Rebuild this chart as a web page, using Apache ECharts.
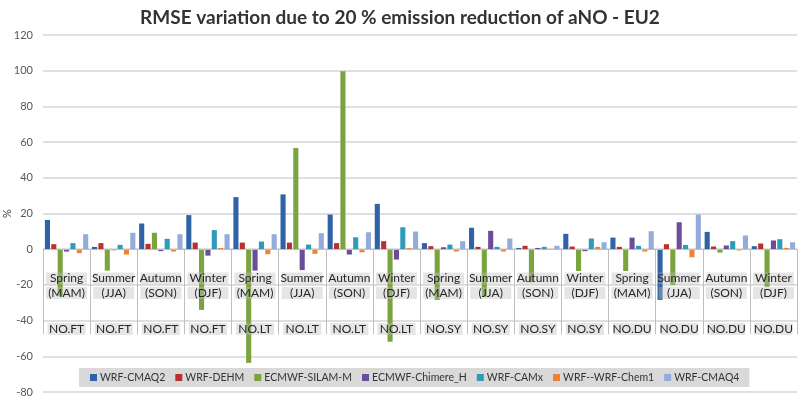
<!DOCTYPE html>
<html>
<head>
<meta charset="utf-8">
<script src="https://cdn.jsdelivr.net/npm/echarts@6/dist/echarts.min.js"></script>
<style>
    html, body { margin: 0; padding: 0; background: #fff; }
    #echarts_div { width: 800px; height: 397px; }
</style>
</head>
<body>
<div id="echarts_div"></div>
<script>
var seasons = ['Spring', 'Summer', 'Autumn', 'Winter'];
var seasonCodes = ['(MAM)', '(JJA)', '(SON)', '(DJF)'];
var regions = ['NO.FT', 'NO.LT', 'NO.SY', 'NO.DU'];
var yTicks = [-80, -60, -40, -20, 0, 20, 40, 60, 80, 100, 120];

var seriesNames = ['WRF-CMAQ2', 'WRF-DEHM', 'ECMWF-SILAM-M', 'ECMWF-Chimere_H', 'WRF-CAMx', 'WRF--WRF-Chem1', 'WRF-CMAQ4'];

// one value per category: FT spring..winter, LT, SY, DU
var cmaq2 = [16.4, 1.3, 14.4, 19.1, 29.2, 30.7, 19.4, 25.4, 3.4, 12.0, 0.7, 8.6, 6.5, -28.4, 9.7, 1.7];
var dehm = [2.8, 3.4, 3.0, 3.7, 3.7, 3.7, 3.4, 4.5, 1.7, 1.3, 1.9, 1.5, 1.3, 2.8, 1.5, 3.2];
var silam = [-26.4, -12.0, 9.2, -34.0, -63.7, 56.7, 99.7, -51.8, -28.4, -26.5, -18.5, -12.2, -12.2, -20.0, -1.9, -21.0];
var chimere = [-1.3, -0.6, -1.1, -3.6, -12.0, -11.7, -3.0, -5.8, 1.1, 10.3, 0.7, -1.1, 6.5, 15.1, 2.1, 4.9];
var camx = [3.4, 2.4, 5.8, 10.7, 4.3, 2.6, 6.7, 12.3, 2.6, 1.3, 1.3, 6.0, 1.9, 2.4, 4.5, 5.6];
var chem1 = [-2.2, -3.0, -1.3, 0.7, -2.8, -2.6, -1.7, 0.6, -1.3, -1.3, 0.2, 1.3, -1.3, -4.5, -0.7, 0.7];
var cmaq4 = [8.4, 9.2, 8.4, 8.4, 8.4, 9.0, 9.5, 9.9, 4.5, 6.0, 1.9, 3.9, 10.1, 19.4, 7.7, 3.9];

var colors = ['#2f63a6', '#b5322f', '#7ba33f', '#6c4d98', '#2f9bb8', '#ee8232', '#93acd9'];

function createChart() {
    var myChart = echarts.init(document.getElementById('echarts_div'));

    var categories = [];
    for (var r = 0; r < regions.length; r++) {
        for (var s = 0; s < seasons.length; s++) {
            categories.push(r + '|' + s);
        }
    }

    var allData = [cmaq2, dehm, silam, chimere, camx, chem1, cmaq4];
    var series = [];
    for (var i = 0; i < seriesNames.length; i++) {
        series.push({
            name: seriesNames[i],
            type: 'bar',
            data: allData[i],
            barGap: '25%',
            barCategoryGap: '8%',
            itemStyle: { color: colors[i] }
        });
    }

    var font = 'Lato, "Noto Sans", sans-serif';
    var labelBg = 'rgba(190,190,190,0.4)';

    var gridTop = 35, gridBottom = 5;
    var plotH = 397 - gridTop - gridBottom;
    // shift the category axis up from the grid bottom to the 0 line
    var zeroOffset = -plotH * (0 - yTicks[0]) / (yTicks[yTicks.length - 1] - yTicks[0]);

    var option = {
        color: colors,
        animation: false,
        textStyle: { fontFamily: font },
        title: {
            text: 'RMSE variation due to 20 % emission reduction of aNO - EU2',
            left: 'center',
            top: 3,
            textStyle: { fontSize: 19, fontWeight: 'bold', color: '#333', fontFamily: font }
        },
        legend: {
            data: seriesNames,
            left: 79,
            top: 368,
            itemWidth: 7,
            itemHeight: 7,
            itemGap: 10,
            padding: [4, 10, 4, 11],
            backgroundColor: '#d9d9d9',
            icon: 'rect',
            textStyle: { fontSize: 10.5, color: '#333', fontFamily: font, padding: [0, 0, 0, -2] }
        },
        grid: { left: 43, right: 3, top: gridTop, bottom: gridBottom, outerBoundsMode: 'none' },
        xAxis: {
            type: 'category',
            data: categories,
            position: 'bottom',
            offset: zeroOffset,
            z: 5,
            axisLine: { onZero: false, lineStyle: { color: '#bfbfbf', width: 1 } },
            axisTick: { show: true, interval: 0, length: 85, lineStyle: { color: '#bfbfbf' } },
            axisLabel: {
                interval: 0,
                margin: 22,
                hideOverlap: false,
                formatter: function (v) {
                    var p = v.split('|');
                    return '{s|' + seasons[p[1]] + '}\n{s|' + seasonCodes[p[1]] + '}\n{g| }\n{r|' + regions[p[0]] + '}';
                },
                rich: {
                    s: { fontSize: 12, lineHeight: 14.5, color: '#262626', width: 41, align: 'center', backgroundColor: labelBg, fontFamily: font },
                    g: { fontSize: 12, lineHeight: 21.5 },
                    r: { fontSize: 12, lineHeight: 14.5, color: '#262626', width: 38, align: 'center', backgroundColor: labelBg, fontFamily: font }
                }
            }
        },
        yAxis: {
            type: 'value',
            min: yTicks[0],
            max: yTicks[yTicks.length - 1],
            interval: 20,
            name: '%',
            nameLocation: 'middle',
            nameGap: 30,
            nameMoveOverlap: false,
            nameTextStyle: { fontSize: 11, color: '#404040', fontFamily: font },
            axisLine: { show: false },
            axisTick: { show: false },
            axisLabel: { fontSize: 11, color: '#595959', margin: 10, fontFamily: font },
            splitLine: { lineStyle: { color: '#d4d4d4', width: 1.5 } }
        },
        series: series
    };

    myChart.setOption(option);
}

createChart();
</script>
</body>
</html>
